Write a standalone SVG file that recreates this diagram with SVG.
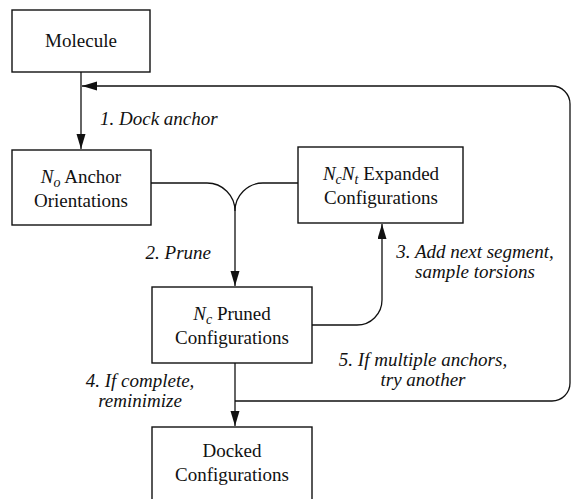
<svg xmlns="http://www.w3.org/2000/svg" width="572" height="499" viewBox="0 0 572 499">
<defs>
<marker id="ah" markerUnits="userSpaceOnUse" markerWidth="16" markerHeight="10" refX="15" refY="4.5" orient="auto">
<path d="M0,0 L15,4.5 L0,9 z" fill="#111"/>
</marker>
</defs>
<rect width="572" height="499" fill="#fff"/>
<g id="connectors" fill="none" stroke="#111" stroke-width="1.3">
<path d="M81,72 V149" marker-end="url(#ah)"/>
<path d="M235,401 H552 A18,18 0 0 0 570,383 V104 A18,18 0 0 0 552,86 H82" marker-end="url(#ah)"/>
<path d="M151,183 H207 A28,28 0 0 1 235,211"/>
<path d="M298,183 H263 A28,28 0 0 0 235,211 V286" marker-end="url(#ah)"/>
<path d="M312,325 H357 A25,25 0 0 0 382,300 V224" marker-end="url(#ah)"/>
<path d="M235,363 V426" marker-end="url(#ah)"/>
</g>
<g id="molecule">
<rect x="12" y="10" width="138" height="62" fill="#fff" stroke="#111" stroke-width="1.4"/>
<text x="81" y="47" style="font-family:'Liberation Serif',serif;font-size:19px" text-anchor="middle" fill="#111">Molecule</text>
</g>
<g id="anchor">
<rect x="12" y="150" width="139" height="75" fill="#fff" stroke="#111" stroke-width="1.4"/>
<text x="81" y="183" style="font-family:'Liberation Serif',serif;font-size:19px" text-anchor="middle" fill="#111"><tspan style="font-family:'Liberation Serif',serif;font-style:italic">N</tspan><tspan style="font-family:'Liberation Serif',serif;font-style:italic;font-size:14px" dy="4">o</tspan><tspan style="font-family:'Liberation Serif',serif" dy="-4"> Anchor</tspan></text>
<text x="81" y="207" style="font-family:'Liberation Serif',serif;font-size:19px" text-anchor="middle" fill="#111">Orientations</text>
</g>
<g id="expanded">
<rect x="298" y="147" width="165" height="76" fill="#fff" stroke="#111" stroke-width="1.4"/>
<text x="381" y="180" style="font-family:'Liberation Serif',serif;font-size:19px" text-anchor="middle" fill="#111"><tspan style="font-family:'Liberation Serif',serif;font-style:italic">N</tspan><tspan style="font-family:'Liberation Serif',serif;font-style:italic;font-size:14px" dy="4">c</tspan><tspan style="font-family:'Liberation Serif',serif;font-style:italic" dy="-4">N</tspan><tspan style="font-family:'Liberation Serif',serif;font-style:italic;font-size:14px" dy="4">t</tspan><tspan style="font-family:'Liberation Serif',serif" dy="-4"> Expanded</tspan></text>
<text x="381" y="204" style="font-family:'Liberation Serif',serif;font-size:19px" text-anchor="middle" fill="#111">Configurations</text>
</g>
<g id="pruned">
<rect x="152" y="287" width="160" height="76" fill="#fff" stroke="#111" stroke-width="1.4"/>
<text x="232" y="320" style="font-family:'Liberation Serif',serif;font-size:19px" text-anchor="middle" fill="#111"><tspan style="font-family:'Liberation Serif',serif;font-style:italic">N</tspan><tspan style="font-family:'Liberation Serif',serif;font-style:italic;font-size:14px" dy="4">c</tspan><tspan style="font-family:'Liberation Serif',serif" dy="-4"> Pruned</tspan></text>
<text x="232" y="344" style="font-family:'Liberation Serif',serif;font-size:19px" text-anchor="middle" fill="#111">Configurations</text>
</g>
<g id="docked">
<rect x="152" y="427" width="160" height="80" fill="#fff" stroke="#111" stroke-width="1.4"/>
<text x="232" y="457" style="font-family:'Liberation Serif',serif;font-size:19px" text-anchor="middle" fill="#111">Docked</text>
<text x="232" y="481" style="font-family:'Liberation Serif',serif;font-size:19px" text-anchor="middle" fill="#111">Configurations</text>
</g>
<g id="labels">
<text x="100" y="125" style="font-family:'Liberation Serif',serif;font-size:19px;font-style:italic" text-anchor="start" fill="#111">1. Dock anchor</text>
<text x="211" y="259" style="font-family:'Liberation Serif',serif;font-size:19px;font-style:italic" text-anchor="end" fill="#111">2. Prune</text>
<text x="475" y="258" style="font-family:'Liberation Serif',serif;font-size:19px;font-style:italic" text-anchor="middle" fill="#111">3. Add next segment,</text>
<text x="475" y="278" style="font-family:'Liberation Serif',serif;font-size:19px;font-style:italic" text-anchor="middle" fill="#111">sample torsions</text>
<text x="140" y="387" style="font-family:'Liberation Serif',serif;font-size:19px;font-style:italic" text-anchor="middle" fill="#111">4. If complete,</text>
<text x="140" y="407" style="font-family:'Liberation Serif',serif;font-size:19px;font-style:italic" text-anchor="middle" fill="#111">reminimize</text>
<text x="423" y="366" style="font-family:'Liberation Serif',serif;font-size:19px;font-style:italic" text-anchor="middle" fill="#111">5. If multiple anchors,</text>
<text x="423" y="386" style="font-family:'Liberation Serif',serif;font-size:19px;font-style:italic" text-anchor="middle" fill="#111">try another</text>
</g>
</svg>
